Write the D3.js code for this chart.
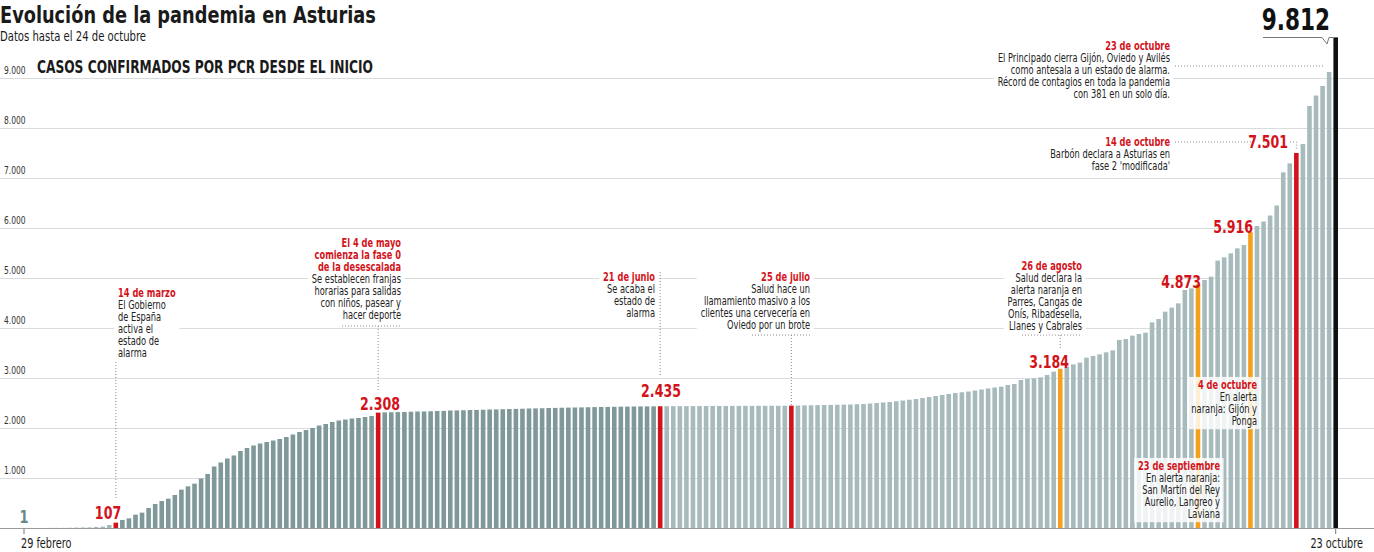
<!DOCTYPE html>
<html>
<head>
<meta charset="utf-8">
<script src="https://cdn.jsdelivr.net/npm/d3@7"></script>
<style>
  body { margin: 0; background: #fff; }
  svg { display: block; font-family: 'Liberation Sans Narrow', 'DejaVu Sans Condensed', 'Open Sans', sans-serif; }
</style>
</head>
<body>
<svg id="chart" width="1374" height="552"></svg>
<script>
// casos acumulados por PCR, una barra por dato publicado (29 feb -> 23 oct)
const casos = [
  1, 1, 1, 1, 2, 2, 3, 5, 8, 10, 13, 20, 27, 60, 107,
  160, 193, 267, 307, 400, 480, 540, 587, 660, 767, 833, 887, 990,
  1080, 1230, 1310, 1390, 1450, 1540, 1600, 1650, 1690, 1720, 1750, 1780, 1820,
  1870, 1920, 1960, 2000, 2050, 2080, 2120, 2150, 2170, 2190, 2200, 2220, 2240,
  2308,
  2312, 2315, 2318, 2320, 2326, 2330, 2331, 2335, 2340, 2342, 2350, 2352, 2355, 2360,
  2362, 2365, 2370, 2372, 2376, 2380, 2382, 2385, 2390, 2392, 2395, 2400, 2402, 2405,
  2408, 2410, 2412, 2415, 2418, 2420, 2421, 2424, 2426, 2428, 2430, 2431, 2432, 2433,
  2435,
  2436, 2437, 2437, 2438, 2438, 2439, 2440, 2440, 2441, 2441, 2442, 2442, 2443, 2443,
  2444, 2444, 2445, 2445, 2446,
  2447,
  2450, 2452, 2455, 2458, 2460, 2462, 2465, 2468, 2470, 2475, 2480, 2490, 2500, 2510,
  2520, 2535, 2550, 2565, 2580, 2600, 2620, 2640, 2660, 2680, 2700, 2715, 2730, 2750,
  2770, 2790, 2810,
  2827, 2860, 2880, 2960, 2980, 2993, 3013, 3060, 3127,
  3184,
  3227, 3273, 3307, 3407, 3440, 3473, 3513, 3553, 3760, 3780, 3847, 3880, 3907, 4113,
  4180, 4327, 4407, 4493, 4760, 4793,
  4873,
  4960, 5027, 5347, 5413, 5493, 5593, 5660,
  5916,
  6040, 6130, 6250, 6450, 7113, 7293,
  7501,
  7680, 8440, 8650, 8840, 9120,
  9812
];

// barras destacadas: índice y color
const destacados = [14, 54, 97, 117, 158, 179, 187, 194, 200];
const colorDestacado = ['#d3131b', '#d3131b', '#d3131b', '#d3131b', '#f4a01c', '#f4a01c', '#f4a01c', '#d3131b', '#111111'];
const finAlarma = 97; // barras del estado de alarma (más oscuras)

const yTicks = [1000, 2000, 3000, 4000, 5000, 6000, 7000, 8000, 9000];
const fechasEje = ['29 febrero', '23 octubre'];

const svg = d3.select('#chart');
const W = 1374;
const RED = '#d3131b';
const K = 0.8; // la fuente del original es más estrecha

const fmt = d3.formatLocale({ decimal: ',', thousands: '.', grouping: [3], currency: ['', '€'] }).format(',d');

// texto estrecho: escala horizontal alrededor del punto de anclaje
function texto(parent, x0, y0, str, o) {
  return parent.append('g')
    .attr('transform', `translate(${x0},${y0}) scale(${o.k || K},1)`)
    .append('text')
    .attr('text-anchor', o.anchor || 'start')
    .attr('font-size', o.size)
    .attr('font-weight', o.weight || 400)
    .attr('fill', o.fill || '#1a1a1a')
    .text(str);
}

const step = 6.5585;
const x = d3.scaleBand()
  .domain(d3.range(casos.length))
  .range([24 - step / 2, 1335.7 + step / 2])
  .paddingInner(0.3)
  .paddingOuter(0.15);
const cx = i => x(i) + x.bandwidth() / 2;

const y = d3.scaleLinear().domain([0, 9000]).range([528, 78]);

// rejilla
const grid = svg.append('g');
grid.selectAll('line')
  .data(yTicks)
  .join('line')
  .attr('x1', 0).attr('x2', W)
  .attr('y1', d => y(d) + 0.5).attr('y2', d => y(d) + 0.5)
  .attr('stroke', '#d8dcdc');
yTicks.forEach(t => texto(grid, 4, y(t) - 4, fmt(t), { size: 10.5, fill: '#333' }));

// títulos
texto(svg, 0, 23, 'Evolución de la pandemia en Asturias', { size: 23.5, weight: 700, k: 0.84 });
texto(svg, 0, 40.5, 'Datos hasta el 24 de octubre', { size: 13.5, k: 0.83 });
texto(svg, 37, 73, 'CASOS CONFIRMADOS POR PCR DESDE EL INICIO', { size: 17, weight: 700 });

// anotaciones (cajas blancas que cortan la rejilla)
const notas = [
  { x: 118, y: 297, anchor: 'start', title: ['14 de marzo'], lines: ['El Gobierno', 'de España', 'activa el', 'estado de', 'alarma'] },
  { x: 401, y: 247, anchor: 'end', title: ['El 4 de mayo', 'comienza la fase 0', 'de la desescalada'], lines: ['Se establecen franjas', 'horarias para salidas', 'con niños, pasear y', 'hacer deporte'] },
  { x: 655, y: 281, anchor: 'end', title: ['21 de junio'], lines: ['Se acaba el', 'estado de', 'alarma'] },
  { x: 810, y: 281, anchor: 'end', title: ['25 de julio'], lines: ['Salud hace un', 'llamamiento masivo a los', 'clientes una cervecería en', 'Oviedo por un brote'] },
  { x: 1082, y: 270, anchor: 'end', title: ['26 de agosto'], lines: ['Salud declara la', 'alerta naranja en', 'Parres, Cangas de', 'Onís, Ribadesella,', 'Llanes y Cabrales'] },
  { x: 1170, y: 50, anchor: 'end', title: ['23 de octubre'], lines: ['El Principado cierra Gijón, Oviedo y Avilés', 'como antesala a un estado de alarma.', 'Récord de contagios en toda la pandemia', 'con 381 en un solo día.'] },
  { x: 1170, y: 146, anchor: 'end', title: ['14 de octubre'], lines: ['Barbón declara a Asturias en', 'fase 2 \'modificada\''] },
  { x: 1257, y: 389, anchor: 'end', title: ['4 de octubre'], lines: ['En alerta', 'naranja: Gijón y', 'Ponga'], box: true },
  { x: 1220, y: 470, anchor: 'end', title: ['23 de septiembre'], lines: ['En alerta naranja:', 'San Martín del Rey', 'Aurelio, Langreo y', 'Laviana'], box: true }
];

// barras
svg.append('g')
  .selectAll('rect')
  .data(casos)
  .join('rect')
  .attr('x', (d, i) => x(i))
  .attr('width', x.bandwidth())
  .attr('y', d => y(d))
  .attr('height', d => y(0) - y(d))
  .attr('fill', (d, i) => {
    const k = destacados.indexOf(i);
    if (k >= 0) return colorDestacado[k];
    return (i > 14 && i < finAlarma) ? '#7f9899' : '#a8bbbc';
  });

// eje inferior
svg.append('line').attr('x1', 0).attr('x2', W).attr('y1', 528.5).attr('y2', 528.5).attr('stroke', '#9a9a9a');
[0, casos.length - 1].forEach((i, k) => {
  svg.append('line').attr('x1', cx(i)).attr('x2', cx(i)).attr('y1', 529).attr('y2', 534).attr('stroke', '#777');
  texto(svg, k === 0 ? 21 : 1363, 548, fechasEje[k], { size: 13.5, anchor: k === 0 ? 'start' : 'end' });
});

// conectores punteados
const dots = svg.append('g').attr('stroke', '#8a8a8a').attr('stroke-dasharray', '1,2').attr('fill', 'none');
const conectores = [
  [[cx(14), 290], [cx(14), 500]],
  [[342, 326], [400, 326]], [[cx(54), 326], [cx(54), 390]],
  [[cx(97), 272], [cx(97), 377]],
  [[752, 335], [810, 335]], [[cx(117), 335], [cx(117), 405]],
  [[1022, 335], [1082, 335]], [[cx(158), 335], [cx(158), 348]],
  [[1175, 66], [1325, 66]],
  [[1175, 142], [1252, 142]], [[1290, 142], [cx(194), 142], [cx(194), 150]]
];
conectores.forEach(p => dots.append('path').attr('d', d3.line()(p)));

const notaLayer = svg.append('g');
notas.forEach(n => {
  const g = notaLayer.append('g').attr('transform', `translate(${n.x},0) scale(${K},1)`);
  const t = g.append('text').attr('text-anchor', n.anchor).attr('font-size', 11.5);
  let yy = n.y;
  n.title.forEach(s => { t.append('tspan').attr('x', 0).attr('y', yy).attr('font-weight', 700).attr('fill', RED).text(s); yy += 12; });
  n.lines.forEach(s => { t.append('tspan').attr('x', 0).attr('y', yy).attr('fill', '#222').text(s); yy += 12; });
  const bb = t.node().getBBox();
  g.insert('rect', 'text')
    .attr('x', bb.x - 5).attr('y', bb.y - 1)
    .attr('width', bb.width + 9).attr('height', bb.height + 3)
    .attr('fill', '#fff').attr('fill-opacity', n.box ? 0.82 : 1);
});

// cifras destacadas
const etiquetas = [
  { i: 0, v: 1, x: 24, y: 523, anchor: 'middle', color: '#6c8889', size: 18 },
  { i: 14, v: 107, x: 108, y: 519, anchor: 'middle', color: RED, size: 17.5 },
  { i: 54, v: 2308, x: 380, y: 410, anchor: 'middle', color: RED, size: 17.5 },
  { i: 97, v: 2435, x: 661, y: 397, anchor: 'middle', color: RED, size: 17.5 },
  { i: 158, v: 3184, x: 1069, y: 368, anchor: 'end', color: RED, size: 17.5 },
  { i: 179, v: 4873, x: 1201, y: 288, anchor: 'end', color: RED, size: 17.5 },
  { i: 187, v: 5916, x: 1253, y: 233, anchor: 'end', color: RED, size: 17.5 },
  { i: 194, v: 7501, x: 1288, y: 148, anchor: 'end', color: RED, size: 17.5 },
  { i: 200, v: 9812, x: 1330, y: 30, anchor: 'end', color: '#111', size: 30 }
];
const lab = svg.append('g');
etiquetas.forEach(d => texto(lab, d.x, d.y, fmt(d.v), { size: d.size, weight: 700, fill: d.color, anchor: d.anchor }));

// pico del total
svg.append('path')
  .attr('d', d3.line()([[1263, 37.5], [1322, 37.5], [1327, 44], [1329, 37.5], [cx(200) - 2, 37.5]]))
  .attr('fill', 'none').attr('stroke', '#777');
</script>
</body>
</html>
